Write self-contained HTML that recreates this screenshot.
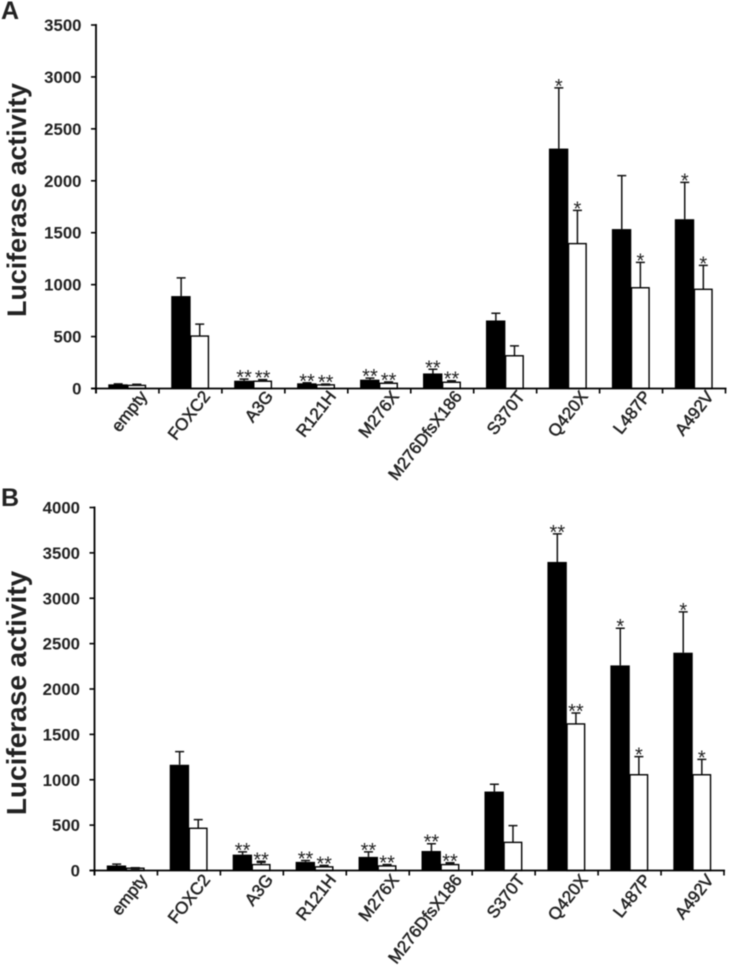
<!DOCTYPE html>
<html>
<head>
<meta charset="utf-8">
<title>Luciferase activity</title>
<style>
html,body{margin:0;padding:0;background:#fff;width:729px;height:972px;overflow:hidden}
svg{display:block;filter:blur(0.4px)}
text{font-family:"Liberation Sans",sans-serif;fill:#222}
</style>
</head>
<body>
<svg id="figure" width="729" height="972" viewBox="0 0 729 972" xmlns="http://www.w3.org/2000/svg"></svg>
<script>
const categories = ["empty","FOXC2","A3G","R121H","M276X","M276DfsX186","S370T","Q420X","L487P","A492V"];

const ticksA = [0,500,1000,1500,2000,2500,3000,3500];
const blackA = [40,890,75,50,85,145,655,2310,1535,1630];
const blackTopA = [45,1065,90,55,100,185,725,2895,2050,1985];
const whiteA = [30,505,70,35,50,60,315,1395,970,955];
const whiteTopA = [40,620,85,42,62,75,410,1715,1215,1185];
const blackSigA = ["","","**","**","**","**","","*","","*"];
const whiteSigA = ["","","**","**","**","**","","*","*","*"];

const ticksB = [0,500,1000,1500,2000,2500,3000,3500,4000];
const blackB = [55,1165,175,95,150,215,870,3400,2260,2400];
const blackTopB = [70,1310,205,110,205,295,950,3710,2670,2850];
const whiteB = [25,465,65,40,50,65,310,1615,1055,1055];
const whiteTopB = [30,560,100,55,65,85,495,1735,1255,1225];
const blackSigB = ["","","**","**","**","**","","**","*","*"];
const whiteSigB = ["","","**","**","**","**","","**","*","*"];

const NS = "http://www.w3.org/2000/svg";
const fig = document.getElementById("figure");

function mk(parent, tag, attrs, txt){
  const el = document.createElementNS(NS, tag);
  for (const k in attrs) el.setAttribute(k, attrs[k]);
  if (txt !== undefined) el.textContent = txt;
  parent.appendChild(el);
  return el;
}

function drawPanel(p){
  const g = mk(fig, "g", {});
  
  
  const yScale = v => p.y0 - v / p.yMax * (p.y0 - p.yTop);
  const step = (p.x1 - p.x0) / categories.length;
  const xLeft = i => p.x0 + step * i;
  const barW = 18.6;
  const centre = i => xLeft(i) + step / 2;

  const letter = mk(g, "text", {x:p.letterX, y:p.letterY, "font-size":25, "font-weight":"bold"}, p.letter);
  
  

  const title = mk(g, "text", {transform:`translate(26 ${p.titleY}) rotate(-90)`, "text-anchor":"middle", "font-size":p.titleSize, "font-weight":"bold"}, "Luciferase activity");
  
  

  categories.forEach((c, i) => {
    const cx = centre(i);
    const bTop = yScale(p.black[i]);
    const wTop = yScale(p.white[i]);

    const bEnd = yScale(p.blackTop[i]);
    const be = mk(g, "path", {d:`M${cx - barW/2} ${bTop}V${bEnd}M${cx - barW/2 - 4.5} ${bEnd}h9`, stroke:"#111", "stroke-width":1.5, fill:"none"});
    
    

    const wEnd = yScale(p.whiteTop[i]);
    const we = mk(g, "path", {d:`M${cx + barW/2} ${wTop}V${wEnd}M${cx + barW/2 - 4.5} ${wEnd}h9`, stroke:"#111", "stroke-width":1.5, fill:"none"});
    
    

    const bb = mk(g, "rect", {x:cx - barW - 0.6, y:bTop, width:barW + 0.8, height:p.y0 - bTop, fill:"#000"});
    
    

    const wb = mk(g, "rect", {x:cx + 0.4, y:wTop, width:barW - 1, height:p.y0 - wTop, fill:"#fff", stroke:"#000", "stroke-width":1.4});
    
    

    if (p.whiteTop[i] < 110) {
      const wm = mk(g, "path", {d:`M${cx + barW/2 - 4.5} ${wEnd + 0.5}h9`, stroke:"#111", "stroke-width":2.4, fill:"none"});
      
      
    }

    if (p.blackSig[i]) {
      const s = mk(g, "text", {x:cx - barW/2, y:bEnd + 5, "text-anchor":"middle", "font-size":20}, p.blackSig[i]);
      
      
    }
    if (p.whiteSig[i]) {
      const s = mk(g, "text", {x:cx + barW/2, y:wEnd + 5, "text-anchor":"middle", "font-size":20}, p.whiteSig[i]);
      
      
    }

    const lab = mk(g, "text", {transform:`translate(${cx + p.labelDx} ${p.y0 + p.labelDy}) rotate(-52)`, "text-anchor":"end", "font-size":17, stroke:"#222", "stroke-width":0.5}, c);
    
    
  });

  const yAxis = mk(g, "line", {x1:p.x0, x2:p.x0, y1:p.yTop - 1, y2:p.y0 + 5, stroke:"#000", "stroke-width":1.8});
  
  
  const xAxis = mk(g, "line", {x1:p.x0 - 5, x2:p.x1 + 1, y1:p.y0, y2:p.y0, stroke:"#000", "stroke-width":1.8});
  
  

  p.ticks.forEach(t => {
    const y = yScale(t);
    const tk = mk(g, "line", {x1:p.x0 - 5, x2:p.x0, y1:y, y2:y, stroke:"#000", "stroke-width":1.6});
    
    
    const tl = mk(g, "text", {x:p.x0 - 14.5, y:y + 6, "text-anchor":"end", "font-size":16.8, "font-weight":"bold"}, String(t));
    
    
  });

  for (let i = 0; i <= categories.length; i++) {
    const x = xLeft(i);
    const tk = mk(g, "line", {x1:x, x2:x, y1:p.y0, y2:p.y0 + 5, stroke:"#000", "stroke-width":1.6});
    
    
  }
}

drawPanel({letter:"A", letterX:1, letterY:19, titleY:200, titleSize:26.8, x0:96, x1:725.5, y0:388.5, yTop:25, yMax:3500, labelDx:20.5, labelDy:8,
  ticks:ticksA, black:blackA, blackTop:blackTopA, white:whiteA, whiteTop:whiteTopA, blackSig:blackSigA, whiteSig:whiteSigA});
drawPanel({letter:"B", letterX:1, letterY:506, titleY:693, titleSize:28, x0:94.5, x1:724, y0:870.5, yTop:507.5, yMax:4000, labelDx:22, labelDy:9.5,
  ticks:ticksB, black:blackB, blackTop:blackTopB, white:whiteB, whiteTop:whiteTopB, blackSig:blackSigB, whiteSig:whiteSigB});
</script>
</body>
</html>
